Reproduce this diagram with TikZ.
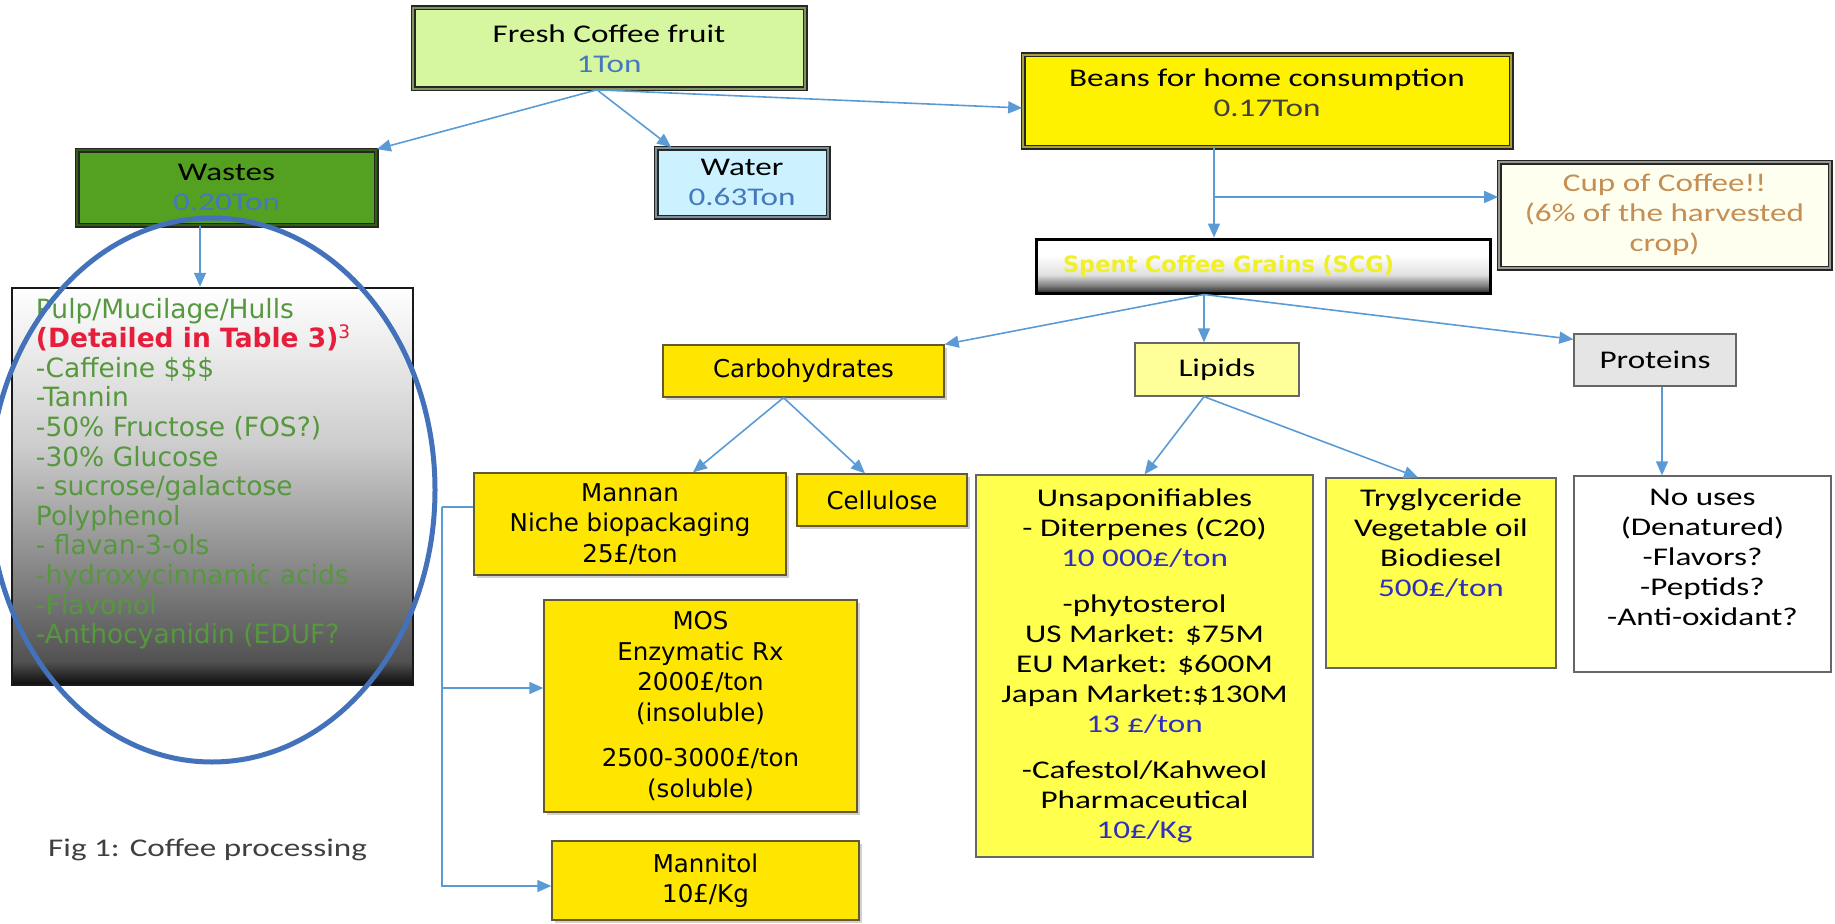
\documentclass[tikz,border=0pt]{standalone}
\usepackage{fontspec}
\usetikzlibrary{arrows.meta,positioning,shadows}

\newfontfamily\calfam{Carlito}[FakeStretch=1.3]
\newfontfamily\verdfam{DejaVu Sans}

\definecolor{LinkBlue}{RGB}{91,155,213}
\definecolor{RingBlue}{RGB}{68,114,186}
\definecolor{FreshGreen}{RGB}{214,247,160}
\definecolor{WasteGreen}{RGB}{84,160,32}
\definecolor{WaterCyan}{RGB}{204,242,255}
\definecolor{CupCream}{RGB}{255,255,240}
\definecolor{CupTan}{RGB}{196,142,84}
\definecolor{TonBlue}{RGB}{70,120,190}
\definecolor{Gold}{RGB}{255,230,0}
\definecolor{GoldEdge}{RGB}{100,90,50}
\definecolor{LipidPale}{RGB}{255,255,153}
\definecolor{OilYellow}{RGB}{255,255,77}
\definecolor{PriceBlue}{RGB}{48,48,190}
\definecolor{PulpGreen}{RGB}{86,152,62}
\definecolor{TableRed}{RGB}{230,30,60}
\definecolor{GrainYellow}{RGB}{240,240,40}

% the box is fitted into 25bp..75bp of these
\pgfdeclareverticalshading{grainbevel}{100bp}{color(0bp)=(black!85); color(25bp)=(black!85);
  color(32bp)=(black!50); color(42bp)=(black!12); color(60bp)=(white); color(100bp)=(white)}
\pgfdeclareverticalshading{pulpbevel}{100bp}{color(0bp)=(black!95); color(25bp)=(black!95);
  color(28bp)=(black!68); color(38bp)=(black!50); color(55bp)=(black!20); color(75bp)=(white);
  color(100bp)=(white)}

\tikzset{
  link/.style={draw=LinkBlue,line width=1.6pt,-{Triangle[length=14pt,width=12pt]}},
  plain/.style={draw=LinkBlue,line width=1.6pt},
  calfont/.style={font=\calfam\fontsize{25.5}{30}\selectfont},
  verdfont/.style={font=\verdfam\fontsize{24.5}{30.5}\selectfont},
  bevel/.style={fill=#1,draw=black!85,double=#1!60!black,line width=1.7pt,double distance=1.6pt,
    align=center,inner sep=0pt,calfont},
  goldbox/.style={draw=GoldEdge,line width=1.3pt,fill=Gold,align=center,inner sep=0pt,verdfont,
    drop shadow={shadow xshift=3pt,shadow yshift=-3pt,opacity=0.3,fill=black!60}},
  flatbox/.style={draw=black!60,line width=1.3pt,align=center,inner sep=0pt,calfont}
}

\begin{document}
\begin{tikzpicture}[x=1pt,y=-1pt]
\useasboundingbox (0,0) rectangle (1835,923);

% first split of the fruit
\node[bevel=FreshGreen,minimum width=392pt,minimum height=81pt] (fresh) at (609,48.5)
  {Fresh Coffee fruit\\\textcolor{TonBlue}{1Ton}};
\node[bevel=WasteGreen,minimum width=299pt,minimum height=75pt] (wastes) at (226.5,187.5)
  {Wastes\\\textcolor{TonBlue}{0.20Ton}};
\node[bevel=WaterCyan,minimum width=172pt,minimum height=69pt] (water) at (742,182.5)
  {Water\\\textcolor{TonBlue}{0.63Ton}};
\node[bevel=yellow,minimum width=488pt,minimum height=92pt] (beans) at (1267,101)
  {Beans for home consumption\\\textcolor{black!75}{0.17Ton}\\[-14pt]};
\node[bevel=CupCream,text=CupTan,minimum width=331pt,minimum height=106pt] (cup) at (1664.5,215)
  {Cup of Coffee!!\\(6\% of the harvested\\crop)};
\node[draw=black,line width=3pt,shading=grainbevel,
  text width=400pt,inner xsep=27pt,inner ysep=0pt,minimum height=54pt,align=left,
  font=\verdfam\bfseries\fontsize{22.5}{26}\selectfont,text=GrainYellow] (scg) at (1263,266)
  {Spent Coffee Grains (SCG)};

% waste detail
\node[draw=black!90,line width=2.5pt,shading=pulpbevel,
  minimum width=401pt,minimum height=397pt,inner sep=0pt] (detail) at (212.5,486.5) {};
\node[anchor=north west,inner sep=0pt,align=left,text=PulpGreen,
  font=\verdfam\fontsize{26.5}{29.6}\selectfont] (pulptext) at ([xshift=25pt,yshift=-11pt]detail.north west)
  {Pulp/Mucilage/Hulls\\
   \textcolor{TableRed}{\textbf{(Detailed in Table 3)}\textsuperscript{3}}\\
   -Caffeine \$\$\$\\-Tannin\\-50\% Fructose (FOS?)\\-30\% Glucose\\- sucrose/galactose\\
   Polyphenol\\- flavan-3-ols\\-hydroxycinnamic acids\\-Flavonol\\-Anthocyanidin (EDUF?};
\coordinate (ring) at (212,490);
\draw[RingBlue,line width=5pt] (ring) ellipse [x radius=223pt,y radius=272pt];
\node[anchor=west,inner sep=0pt,text=black!75,calfont] (caption) at (48,850) {Fig 1: Coffee processing};

% fractions of the grains
\node[goldbox,minimum width=281pt,minimum height=52pt] (carb) at (803.5,371) {Carbohydrates};
\node[flatbox,fill=LipidPale,minimum width=164pt,minimum height=53pt] (lipids) at (1217,369.5) {Lipids};
\node[flatbox,fill=black!10,minimum width=162pt,minimum height=52pt] (proteins) at (1655,360) {Proteins};

\node[goldbox,minimum width=312pt,minimum height=102pt] (mannan) at (630,524)
  {Mannan\\Niche biopackaging\\25£/ton};
\node[goldbox,minimum width=170pt,minimum height=52pt] (cellulose) at (882,500) {Cellulose};
\node[goldbox,minimum width=313pt,minimum height=212pt] (mos) at (700.5,706)
  {MOS\\Enzymatic Rx\\2000£/ton\\(insoluble)\\[15pt]2500-3000£/ton\\(soluble)};
\node[goldbox,minimum width=307pt,minimum height=79pt] (mannitol) at (705.5,880.5)
  {Mannitol\\10£/Kg};

\node[flatbox,fill=OilYellow,minimum width=337pt,minimum height=382pt] (unsap) at (1144.5,666)
  {Unsaponifiables\\- Diterpenes (C20)\\\textcolor{PriceBlue}{10 000£/ton}\\[16pt]
   -phytosterol\\US Market: \$75M\\EU Market: \$600M\\Japan Market:\$130M\\
   \textcolor{PriceBlue}{13 £/ton}\\[16pt]-Cafestol/Kahweol\\Pharmaceutical\\
   \textcolor{PriceBlue}{10£/Kg}};
\node[flatbox,fill=OilYellow,minimum width=230pt,minimum height=190pt] (try) at (1441,573) {};
\node[below=11pt of try.north,anchor=north,inner sep=0pt,align=center,calfont] (trytext)
  {Tryglyceride\\Vegetable oil\\Biodiesel\\\textcolor{PriceBlue}{500£/ton}};
\node[flatbox,fill=white,minimum width=257pt,minimum height=196pt] (nouses) at (1702.5,574) {};
\node[below=14pt of nouses.north,anchor=north,inner sep=0pt,align=center,calfont] (nousetext)
  {No uses\\(Denatured)\\-Flavors?\\-Peptids?\\-Anti-oxidant?};

% connectors
\coordinate (wcol) at (200,0);
\coordinate (split) at (1214,197);
\coordinate (hub) at (1204,0);
\coordinate (pcol) at (1662,0);
\coordinate (rail) at (442,507);

\draw[link] ([xshift=-12pt]fresh.south) -- (wastes.north east);
\draw[link] ([xshift=-12pt]fresh.south) -- ([xshift=16pt]water.north west);
\draw[link] ([xshift=-12pt]fresh.south) -- ([yshift=-7pt]beans.west);
\draw[link] (wastes.south -| wcol) -- (detail.north -| wcol);
\draw[link] (beans.south -| split) -- (scg.north -| split);
\draw[link] (split) -- (cup.west |- split);
\draw[link] (scg.south -| hub) -- (carb.north east);
\draw[link] (scg.south -| hub) -- (lipids.north -| hub);
\draw[link] (scg.south -| hub) -- ([yshift=-6pt]proteins.north west);
\draw[link] ([xshift=-20pt]carb.south) -- ([xshift=63pt]mannan.north);
\draw[link] ([xshift=-20pt]carb.south) -- ([xshift=-17pt]cellulose.north);
\draw[plain] ([yshift=17pt]mannan.west) -- (rail);
\draw[link] (rail) |- ([yshift=18pt]mos.west);
\draw[link] (rail) |- ([yshift=-5.5pt]mannitol.west);
\draw[link] (lipids.south -| hub) -- (unsap.north);
\draw[link] (lipids.south -| hub) -- ([xshift=-23pt]try.north);
\draw[link] (proteins.south -| pcol) -- (nouses.north -| pcol);
\end{tikzpicture}
\end{document}
